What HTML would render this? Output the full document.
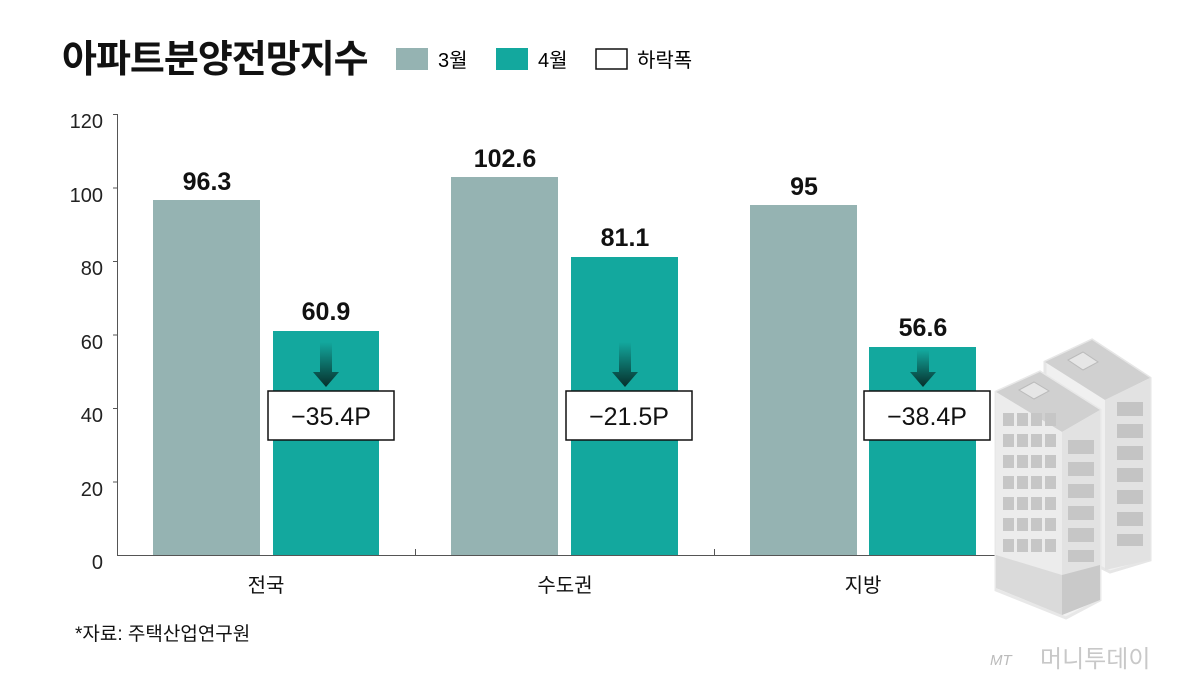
<!DOCTYPE html><html><head><meta charset="utf-8"><style>body{margin:0;background:#fff}svg{display:block}text{font-family:"Liberation Sans","Noto Sans CJK KR",sans-serif}</style></head><body>
<svg width="1200" height="683" viewBox="0 0 1200 683">
<defs><linearGradient id="ag" x1="0" y1="0" x2="0" y2="1"><stop offset="0" stop-color="#13a89e"/><stop offset="1" stop-color="#062f2b"/></linearGradient></defs>
<text x="62" y="72" font-size="38" font-weight="bold" fill="#111" style="letter-spacing:-1px">아파트분양전망지수</text>
<rect x="396" y="48" width="32" height="22" fill="#95b3b2"/><text x="438" y="67" font-size="20">3월</text>
<rect x="496" y="48" width="32" height="22" fill="#13a89e"/><text x="538" y="67" font-size="20">4월</text>
<rect x="596" y="49" width="31" height="20" fill="#fff" stroke="#111" stroke-width="1.5"/><text x="637" y="67" font-size="20">하락폭</text>
<g font-size="20" fill="#222" text-anchor="end">
<text x="103" y="128">120</text><text x="103" y="202">100</text><text x="103" y="275">80</text><text x="103" y="349">60</text><text x="103" y="422">40</text><text x="103" y="496">20</text><text x="103" y="569">0</text></g>
<g stroke="#555" stroke-width="1"><line x1="117.5" y1="114" x2="117.5" y2="556"/><line x1="117" y1="555.5" x2="1010" y2="555.5"/>
<line x1="113" y1="114.5" x2="117" y2="114.5"/><line x1="113" y1="188" x2="117" y2="188"/><line x1="113" y1="261.5" x2="117" y2="261.5"/><line x1="113" y1="335" x2="117" y2="335"/><line x1="113" y1="408.5" x2="117" y2="408.5"/><line x1="113" y1="482" x2="117" y2="482"/>
<line x1="415.5" y1="549" x2="415.5" y2="556"/><line x1="714.5" y1="549" x2="714.5" y2="556"/></g>
<rect x="153" y="200" width="107" height="355" fill="#95b3b2"/>
<rect x="273" y="331" width="106" height="224" fill="#13a89e"/>
<rect x="451" y="177" width="107" height="378" fill="#95b3b2"/>
<rect x="571" y="257" width="107" height="298" fill="#13a89e"/>
<rect x="750" y="205" width="107" height="350" fill="#95b3b2"/>
<rect x="869" y="347" width="107" height="208" fill="#13a89e"/>
<g font-size="25" font-weight="bold" text-anchor="middle" fill="#111">
<text x="207" y="190">96.3</text><text x="326" y="320">60.9</text><text x="505" y="167">102.6</text><text x="625" y="246">81.1</text><text x="804" y="195">95</text><text x="923" y="336">56.6</text></g>
<g fill="url(#ag)">
<path d="M320 342h12v30h7l-13 15-13-15h7z"/>
<path d="M619 342h12v30h7l-13 15-13-15h7z"/>
<path d="M917 350h12v22h7l-13 15-13-15h7z"/></g>
<g fill="#fff" stroke="#111" stroke-width="1.5"><rect x="268" y="391" width="126" height="49"/><rect x="566" y="391" width="126" height="49"/><rect x="864" y="391" width="126" height="49"/></g>
<g font-size="25" text-anchor="middle" fill="#111"><text x="331" y="425">−35.4P</text><text x="629" y="425">−21.5P</text><text x="927" y="425">−38.4P</text></g>
<g font-size="20" text-anchor="middle" fill="#111"><text x="266" y="592">전국</text><text x="565" y="592">수도권</text><text x="863" y="592">지방</text></g>
<text x="75" y="640" font-size="19" fill="#111">*자료: 주택산업연구원</text>
<!-- back building -->
<polygon points="1045,362 1092,340 1150,378 1150,560 1110,572 1045,540" fill="#f0f0f0" stroke="#e6e6e6" stroke-width="3"/>
<polygon points="1045,362 1092,340 1150,378 1105,400" fill="#d0d0d0"/>
<polygon points="1105,400 1150,378 1150,560 1105,570" fill="#e2e2e2"/>
<g fill="#c4c4c4"><rect x="1117" y="402" width="26" height="14"/><rect x="1117" y="424" width="26" height="14"/><rect x="1117" y="446" width="26" height="14"/><rect x="1117" y="468" width="26" height="14"/><rect x="1117" y="490" width="26" height="14"/><rect x="1117" y="512" width="26" height="14"/><rect x="1117" y="534" width="26" height="12"/></g>
<polygon points="1068,360 1083,352 1098,362 1083,370" fill="#e6e6e6" stroke="#bbb"/>
<!-- front building -->
<polygon points="996,392 1040,372 1100,410 1100,600 1066,618 996,590" fill="#f2f2f2" stroke="#e8e8e8" stroke-width="3"/>
<polygon points="996,392 1040,372 1100,410 1062,432" fill="#d0d0d0"/>
<polygon points="996,392 1062,432 1062,615 996,588" fill="#ececec"/>
<polygon points="1062,432 1100,410 1100,600 1062,615" fill="#e2e2e2"/>
<polygon points="996,555 1062,575 1062,615 996,588" fill="#dadada"/>
<polygon points="1062,575 1100,565 1100,600 1062,615" fill="#c9c9c9"/>
<g fill="#c6c6c6">
<g id="row"><rect x="1003" y="413" width="11" height="13"/><rect x="1017" y="413" width="11" height="13"/><rect x="1031" y="413" width="11" height="13"/><rect x="1045" y="413" width="11" height="13"/></g>
<use href="#row" y="21"/><use href="#row" y="42"/><use href="#row" y="63"/><use href="#row" y="84"/><use href="#row" y="105"/><use href="#row" y="126"/>
<rect x="1068" y="440" width="26" height="14"/><rect x="1068" y="462" width="26" height="14"/><rect x="1068" y="484" width="26" height="14"/><rect x="1068" y="506" width="26" height="14"/><rect x="1068" y="528" width="26" height="14"/><rect x="1068" y="550" width="26" height="12"/></g>
<polygon points="1019,390 1034,382 1049,391 1034,399" fill="#e6e6e6" stroke="#bbb"/>
<text x="990" y="665" font-size="15" font-style="italic" fill="#bbb">MT</text>
<text x="1040" y="667" font-size="24" fill="#c8c8c8">머니투데이</text>
</svg></body></html>
